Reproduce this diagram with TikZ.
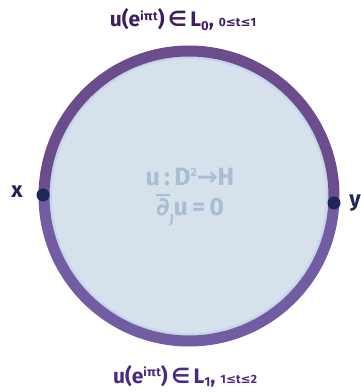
\documentclass[tikz,border=0pt]{standalone}
\usepackage{fontspec}
\setmainfont{Fira Sans}
\newfontfamily\sym{DejaVu Sans}
\definecolor{toptext}{HTML}{3E1E5E}
\definecolor{bottext}{HTML}{4A2A82}
\definecolor{ringtop}{HTML}{6B4D8D}
\definecolor{ringbot}{HTML}{725CA2}
\definecolor{diskfill}{HTML}{D6E1EC}
\definecolor{diskrim}{HTML}{C6D6E8}
\definecolor{centertext}{HTML}{A9BDD7}
\definecolor{dotcol}{HTML}{1E2858}
\newcommand{\dbar}{\makebox[0pt][l]{\raisebox{0.78em}{\rule{0.55em}{2pt}}}{\sym ∂}}
\tikzset{
  ringstroke/.style={line width=11pt, line cap=round},
  endpoint/.style={circle, fill=dotcol, inner sep=0pt, minimum size=13pt},
  ptlabel/.style={text=dotcol, font=\fontsize{22}{24}\selectfont\bfseries, inner sep=0pt},
  bdlabel/.style={font=\fontsize{21}{23}\selectfont\bfseries, inner sep=0pt},
  centerlabel/.style={text=centertext, font=\fontsize{25}{27}\selectfont\bfseries, inner sep=0pt}
}
\begin{document}
\begin{tikzpicture}[x=1pt,y=1pt]
\useasboundingbox (0,0) rectangle (360,392);
\coordinate (c) at (189,196);
% disk
\fill[diskrim] (c) circle (147);
\fill[diskfill] (c) circle (137);
% ring halves
\draw[ringstroke, ringtop] (c) ++(180:145) arc[start angle=180, end angle=-3, radius=145];
\draw[ringstroke, ringbot] (c) ++(-3:145) arc[start angle=-3, end angle=-180, radius=145];
% endpoints
\node[endpoint] (xdot) at (43,197) {};
\node[endpoint] (ydot) at (334,189) {};
\node[ptlabel] (xlab) at (17,200) {x};
\node[ptlabel] (ylab) at (355,189) {y};
% boundary labels
\node[bdlabel, text=toptext] (top) at (183,372)
  {u(e\raisebox{0.6ex}{\fontsize{12}{12}\selectfont i{\sym π}t})\,{\sym∈}\,L\raisebox{-0.35ex}{\fontsize{13}{13}\selectfont 0},\ {\fontsize{12}{13}\selectfont 0{\sym≤}t{\sym≤}1}};
\node[bdlabel, text=bottext] (bot) at (185,16)
  {u(e\raisebox{0.6ex}{\fontsize{12}{12}\selectfont i{\sym π}t})\,{\sym∈}\,L\raisebox{-0.35ex}{\fontsize{13}{13}\selectfont 1},\ {\fontsize{12}{13}\selectfont 1{\sym≤}t{\sym≤}2}};
% centre
\node[centerlabel] (eq1) at (190,215) {u\,:\,D\raisebox{0.7ex}{\fontsize{12}{12}\selectfont 2}{\sym→}H};
\node[centerlabel] (eq2) at (190,182) {\dbar\raisebox{-0.6ex}{\fontsize{13}{13}\selectfont J}u\,=\,0};
\end{tikzpicture}
\end{document}
